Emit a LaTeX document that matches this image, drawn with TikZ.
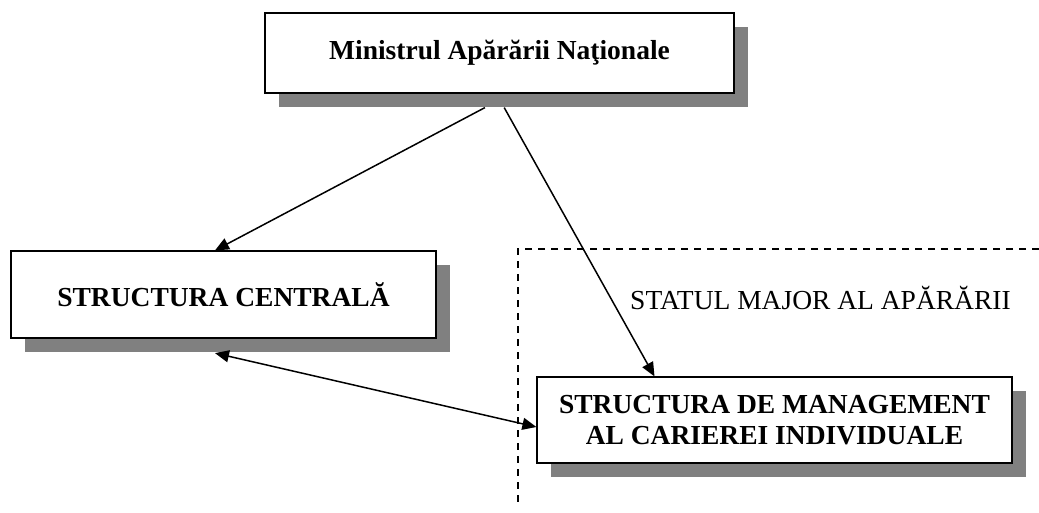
\documentclass[tikz,border=0pt]{standalone}
\usepackage{fontspec}
\setmainfont{Liberation Serif}
\usetikzlibrary{shadows,arrows.meta,calc}
\definecolor{shadowgray}{HTML}{808080}
\begin{document}
\begin{tikzpicture}[x=1pt,y=-1pt,
  box/.style={draw=black, line width=1.2pt, fill=white, rectangle, inner sep=0pt,
    align=center, font=\bfseries\fontsize{27.5}{31}\selectfont,
    drop shadow={shadow xshift=14pt, shadow yshift=-14pt, fill=shadowgray, opacity=1}},
  arr/.style={line width=1.5pt, -{Triangle[length=14pt,width=12pt]}},
  biarr/.style={line width=1.5pt, {Triangle[length=14pt,width=12pt]}-{Triangle[length=14pt,width=12pt]}},
  dashline/.style={line width=1.3pt, dash pattern=on 7pt off 6pt}
]
\useasboundingbox (0,0) rectangle (1039,512);
\fill[white] (0,0) rectangle (1039,512);

% dashed region
\coordinate (dTop) at (1039,249);
\coordinate (dCorner) at (518,249);
\coordinate (dBottom) at (518,507);
\draw[dashline] (dTop) -- (dCorner) -- (dBottom);
\node[font=\fontsize{27.5}{31}\selectfont, anchor=center] (sm) at (820.5,298) {STATUL MAJOR AL APĂRĂRII};

% boxes
\node[box, minimum width=469pt, minimum height=80pt] (top) at (499.5,53) {Ministrul Apărării Naţionale};
\node[box, minimum width=425pt, minimum height=87pt] (cl) at (223.5,294.5) {STRUCTURA CENTRALĂ};
\node[box, minimum width=475pt, minimum height=86pt] (mg) at (774.5,420) {STRUCTURA DE MANAGEMENT\\AL CARIEREI INDIVIDUALE};

% connectors
\coordinate (t1) at ($(top.south west)!0.469!(top.south east)+(0,14)$);
\coordinate (t2) at ($(top.south west)!0.51!(top.south east)+(0,14)$);
\draw[arr] (t1) -- ($(cl.north west)!0.48!(cl.north east)$);
\draw[arr] (t2) -- ($(mg.north west)!0.248!(mg.north east)$);
\draw[biarr] ($(cl.south west)!0.48!(cl.south east)+(0,14.5)$) -- ($(mg.west)+(0,7)$);
\end{tikzpicture}
\end{document}
